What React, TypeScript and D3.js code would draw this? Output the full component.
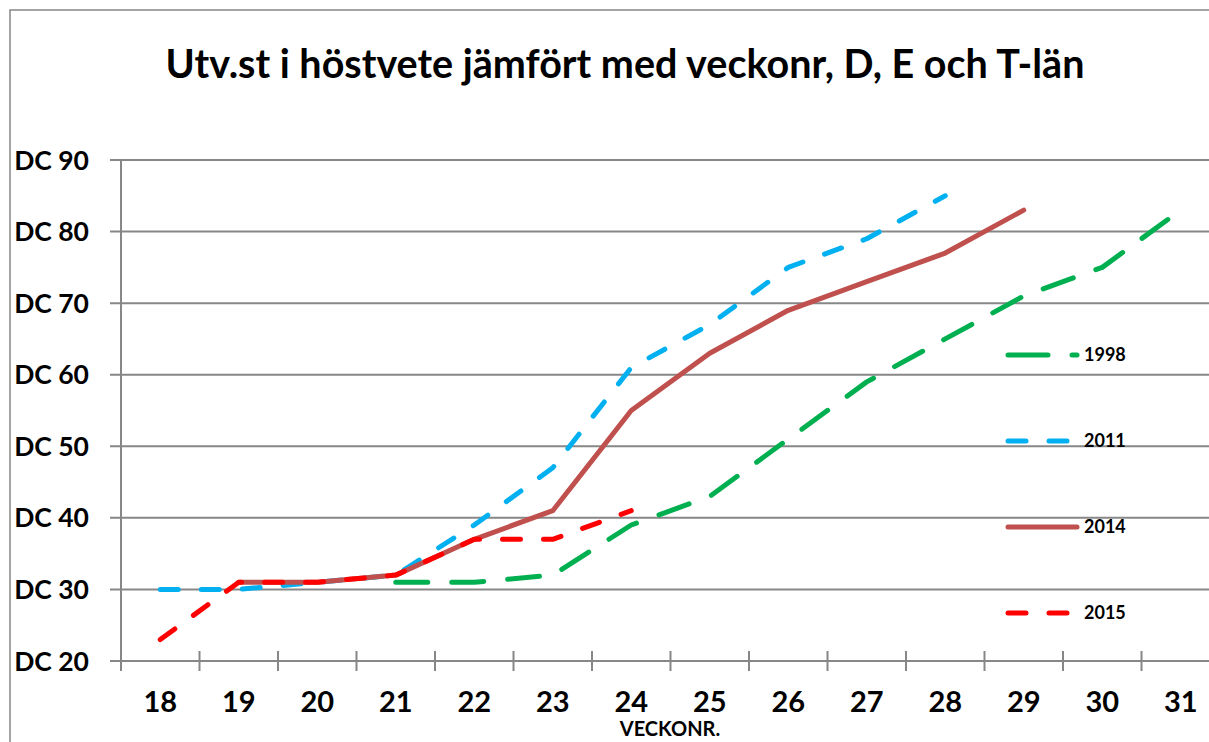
// App.tsx
import React, { useEffect, useRef } from 'react';
import * as d3 from 'd3';

const weeks = ['18', '19', '20', '21', '22', '23', '24', '25', '26', '27', '28', '29', '30', '31'];
const yTicks = [20, 30, 40, 50, 60, 70, 80, 90];

// DC values per week (null = no observation)
const dc1998 = [null, null, null, 31, 31, 32, 39, 43, 51, 59, 65, 71, 75, 83];
const dc2011 = [30, 30, 31, 32, 39, 47, 61, 67, 75, 79, 85, null, null, null];
const dc2014 = [null, 31, 31, 32, 37, 41, 55, 63, 69, 73, 77, 83, null, null];
const dc2015 = [23, 31, 31, 32, 37, 37, 41, null, null, null, null, null, null, null];

const series = [
  { name: '1998', values: dc1998, color: '#00B050', dash: '32 24' },
  { name: '2011', values: dc2011, color: '#00B0F0', dash: '18 23' },
  { name: '2014', values: dc2014, color: '#C0504D', dash: null },
  { name: '2015', values: dc2015, color: '#FF0000', dash: '18 23' },
];

const FONT = 'Lato, "Open Sans", sans-serif';
const GRID = '#878787';

const App: React.FC = () => {
  const chartRef = useRef<SVGSVGElement>(null);

  useEffect(() => {
    if (!chartRef.current) return;
    const svg = d3.select(chartRef.current);
    svg.selectAll('*').remove();

    const left = 121;
    const right = 1220;
    const top = 160;
    const bottom = 661;

    // chart frame (right and bottom edges fall outside the picture)
    svg
      .append('rect')
      .attr('x', 10)
      .attr('y', 10)
      .attr('width', 1240)
      .attr('height', 780)
      .attr('fill', 'white')
      .attr('stroke', GRID)
      .attr('stroke-width', 1.5);

    svg
      .append('text')
      .attr('x', 625)
      .attr('y', 78)
      .attr('text-anchor', 'middle')
      .attr('font-family', FONT)
      .attr('font-weight', 'bold')
      .attr('font-size', 39.5)
      .text('Utv.st i höstvete jämfört med veckonr, D, E och T-län');

    const x = d3.scaleBand().domain(weeks).range([left, right]);
    const y = d3.scaleLinear().domain([20, 90]).range([bottom, top]);

    // horizontal gridlines
    svg
      .append('g')
      .selectAll('line')
      .data(yTicks)
      .join('line')
      .attr('x1', left - 11)
      .attr('x2', right)
      .attr('y1', (d) => y(d))
      .attr('y2', (d) => y(d))
      .attr('stroke', GRID)
      .attr('stroke-width', 2);

    // y axis line
    svg
      .append('line')
      .attr('x1', left)
      .attr('x2', left)
      .attr('y1', top)
      .attr('y2', bottom + 10)
      .attr('stroke', GRID)
      .attr('stroke-width', 2);

    // y tick labels
    svg
      .append('g')
      .selectAll('text')
      .data(yTicks)
      .join('text')
      .attr('x', 89)
      .attr('y', (d) => y(d))
      .attr('dy', '0.36em')
      .attr('text-anchor', 'end')
      .attr('font-family', FONT)
      .attr('font-weight', 'bold')
      .attr('font-size', 26.5)
      .text((d) => 'DC ' + d);

    // x tick marks between categories
    const boundaries = weeks.slice(1).map((w) => x(w) as number);
    svg
      .append('g')
      .selectAll('line')
      .data(boundaries)
      .join('line')
      .attr('x1', (d) => d)
      .attr('x2', (d) => d)
      .attr('y1', bottom - 10)
      .attr('y2', bottom + 10)
      .attr('stroke', GRID)
      .attr('stroke-width', 2);

    // x labels
    svg
      .append('g')
      .selectAll('text')
      .data(weeks)
      .join('text')
      .attr('x', (d) => (x(d) as number) + x.bandwidth() / 2)
      .attr('y', 712)
      .attr('text-anchor', 'middle')
      .attr('font-family', FONT)
      .attr('font-weight', 'bold')
      .attr('font-size', 29)
      .text((d) => d);

    svg
      .append('text')
      .attr('x', 670)
      .attr('y', 736)
      .attr('text-anchor', 'middle')
      .attr('font-family', FONT)
      .attr('font-weight', 'bold')
      .attr('font-size', 20)
      .text('VECKONR.');

    const line = d3
      .line<number | null>()
      .defined((d) => d !== null)
      .x((d, i) => (x(weeks[i]) as number) + x.bandwidth() / 2)
      .y((d) => y(d as number));

    series.forEach((s) => {
      const path = svg
        .append('path')
        .datum(s.values)
        .attr('fill', 'none')
        .attr('stroke', s.color)
        .attr('stroke-width', 5)
        .attr('stroke-linecap', 'round')
        .attr('stroke-linejoin', 'round')
        .attr('d', line);
      if (s.dash) path.attr('stroke-dasharray', s.dash);
    });

    // legend
    const legendY = d3.scalePoint().domain(series.map((s) => s.name)).range([355, 613]);
    const legend = svg
      .append('g')
      .selectAll('g')
      .data(series)
      .join('g')
      .attr('transform', (d) => 'translate(0,' + legendY(d.name) + ')');

    legend
      .append('line')
      .attr('x1', 1008)
      .attr('x2', 1077)
      .attr('stroke', (d) => d.color)
      .attr('stroke-width', 5)
      .attr('stroke-linecap', 'round')
      .attr('stroke-dasharray', (d) => (d.name === '1998' ? '40 24' : d.dash || null));

    legend
      .append('text')
      .attr('x', 1084)
      .attr('dy', '0.36em')
      .attr('font-family', FONT)
      .attr('font-weight', 'bold')
      .attr('font-size', 18)
      .text((d) => d.name);
  }, []);

  return (
    <svg
      ref={chartRef}
      width={1209}
      height={742}
      style={{ position: 'absolute', left: 0, top: 0, display: 'block' }}
    ></svg>
  );
};

export default App;
